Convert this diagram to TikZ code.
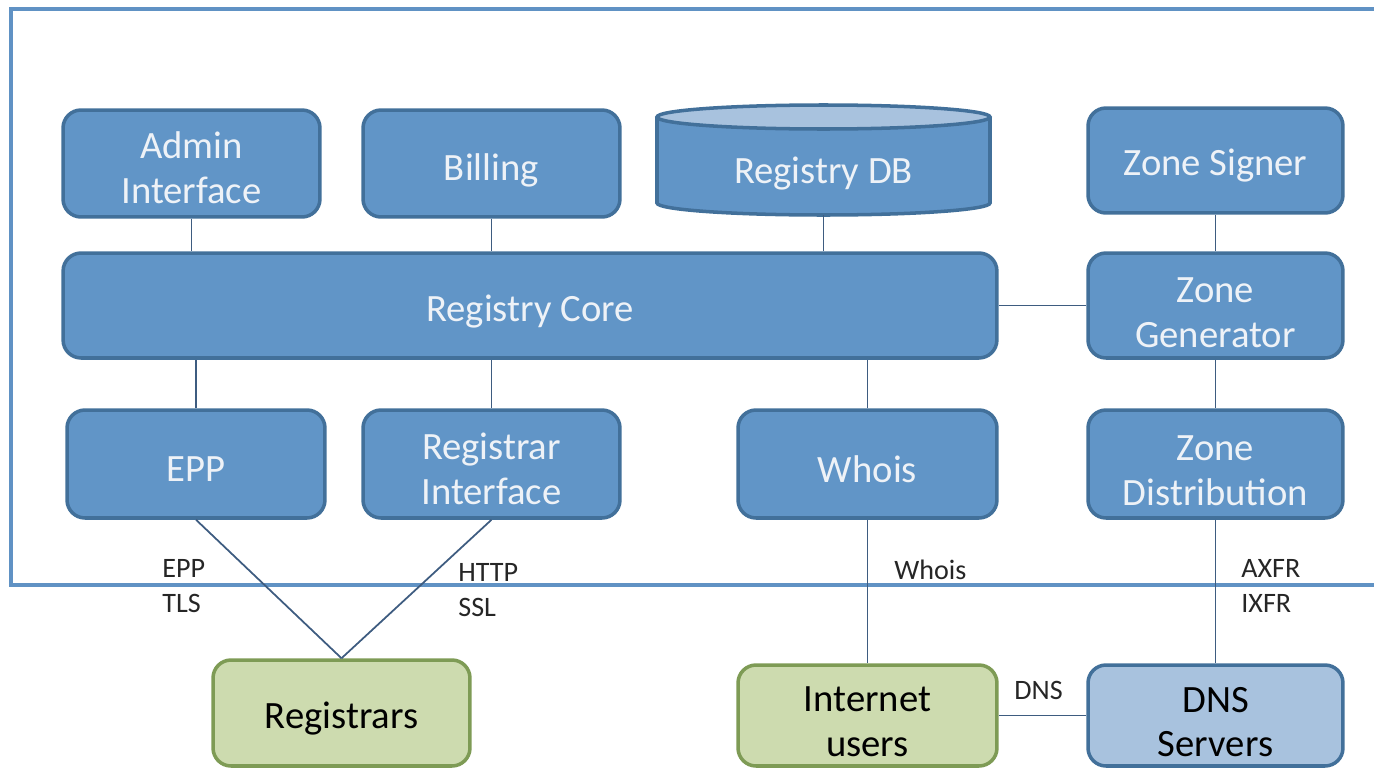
\documentclass[tikz,border=0pt]{standalone}
\usepackage{fontspec}
\setmainfont{Carlito}
\definecolor{bfill}{RGB}{97,149,199}
\definecolor{bdr}{RGB}{66,112,154}
\definecolor{gfill}{RGB}{205,219,175}
\definecolor{gbdr}{RGB}{126,155,85}
\definecolor{lbfill}{RGB}{168,194,222}
\definecolor{frame}{RGB}{96,146,196}
\definecolor{conn}{RGB}{62,92,128}
\definecolor{wtext}{RGB}{238,242,247}
\begin{document}
\begin{tikzpicture}[x=0.02cm,y=-0.02cm,
  box/.style={rectangle, rounded corners=0.36cm, draw=bdr, line width=2pt, fill=bfill,
    inner sep=0pt, minimum width=5.14cm, minimum height=2.14cm},
  gbox/.style={box, fill=gfill, draw=gbdr},
  lbox/.style={box, fill=lbfill},
  btext/.style={align=center, inner sep=0pt, text=wtext, font=\fontsize{22}{25.5}\selectfont},
  dtext/.style={btext, text=black},
  lbl/.style={anchor=west, align=left, inner sep=0pt, text=black!85,
    font=\fontsize{16}{20}\selectfont},
  conn/.style={draw=conn, line width=1pt}]
\useasboundingbox (0,0) rectangle (1374,771);
\begin{scope}
\clip (0,0) rectangle (1374,771);
\draw[frame, line width=2.3pt] (11,9) rectangle (1400,585);
\end{scope}

% top row
\node[box] (admin) at (191.5,163.5) {};
\node[btext] (admin-t) at (191.5,168) {Admin\\Interface};
\node[box] (billing) at (491.5,163.5) {};
\node[btext] (billing-t) at (491.5,170) {Billing};
\node[box, minimum width=5.1cm, minimum height=2.1cm] (zsign) at (1215.5,160.5) {};
\node[btext] (zsign-t) at (1215.5,166) {Zone Signer};

% database cylinder
\fill[bfill] (657,117) -- (657,203) arc[start angle=180, end angle=0, x radius=166.5, y radius=12]
  -- (990,117) -- cycle;
\fill[lbfill] (823.5,117) ellipse[x radius=166.5, y radius=12];
\draw[bdr, line width=2pt] (657,117) -- (657,203) arc[start angle=180, end angle=0, x radius=166.5, y radius=12]
  -- (990,117);
\draw[bdr, line width=2pt] (823.5,117) ellipse[x radius=166.5, y radius=12];
\node[inner sep=0pt, minimum width=6.66cm, minimum height=2.2cm] (db) at (823.5,160) {};
\node[btext] (db-t) at (823.5,174) {Registry DB};

% middle row
\node[box, minimum width=18.68cm, minimum height=2.1cm] (core) at (530,305.5) {};
\node[btext] (core-t) at (530,312) {Registry Core};
\node[box, minimum width=5.1cm, minimum height=2.1cm] (zgen) at (1215.5,305.5) {};
\node[btext] (zgen-t) at (1215.5,313) {Zone\\Generator};

% lower row
\node[box, minimum width=5.16cm, minimum height=2.16cm] (epp) at (196,464) {};
\node[btext] (epp-t) at (196,469) {EPP};
\node[box, minimum height=2.16cm] (regif) at (491.5,464) {};
\node[btext] (regif-t) at (491.5,469) {Registrar\\Interface};
\node[box, minimum width=5.18cm, minimum height=2.16cm] (whois) at (867.5,464) {};
\node[btext] (whois-t) at (867.5,469) {Whois};
\node[box, minimum width=5.1cm, minimum height=2.16cm] (zdist) at (1215.5,464) {};
\node[btext] (zdist-t) at (1215.5,471) {Zone\\Distribution};

% outside
\node[gbox, minimum height=2.12cm] (registrars) at (341.5,713) {};
\node[dtext] (registrars-t) at (341.5,719) {Registrars};
\node[gbox, minimum width=5.18cm, minimum height=2.02cm] (inet) at (867.5,715.5) {};
\node[dtext] (inet-t) at (867.5,722) {Internet\\users};
\node[lbox, minimum width=5.1cm, minimum height=2.02cm] (dns) at (1215.5,715.5) {};
\node[dtext] (dns-t) at (1215.5,722) {DNS\\Servers};

% connectors
\draw[conn] (admin.south) -- (admin.south |- core.north);
\draw[conn] (billing.south) -- (billing.south |- core.north);
\draw[conn] (db.south) -- (db.south |- core.north);
\draw[conn] (zsign.south) -- (zgen.north);
\draw[conn] (core.east) -- (zgen.west);
\draw[conn] (epp.north) -- (epp.north |- core.south);
\draw[conn] (regif.north) -- (regif.north |- core.south);
\draw[conn] (whois.north) -- (whois.north |- core.south);
\draw[conn] (zgen.south) -- (zdist.north);
\draw[conn] (epp.south) -- (registrars.north);
\draw[conn] (regif.south) -- (registrars.north);
\draw[conn] (whois.south) -- (inet.north);
\draw[conn] (zdist.south) -- (dns.north);
\draw[conn] (inet.east) -- (dns.west);

% labels
\node[lbl] (lepp) at (162,586) {EPP\\TLS};
\node[lbl] (lhttp) at (458,590) {HTTP\\SSL};
\node[lbl] (lwhois) at (894,570) {Whois};
\node[lbl] (laxfr) at (1241,586) {AXFR\\IXFR};
\node[lbl] (ldns) at (1014,690) {DNS};
\end{tikzpicture}
\end{document}
